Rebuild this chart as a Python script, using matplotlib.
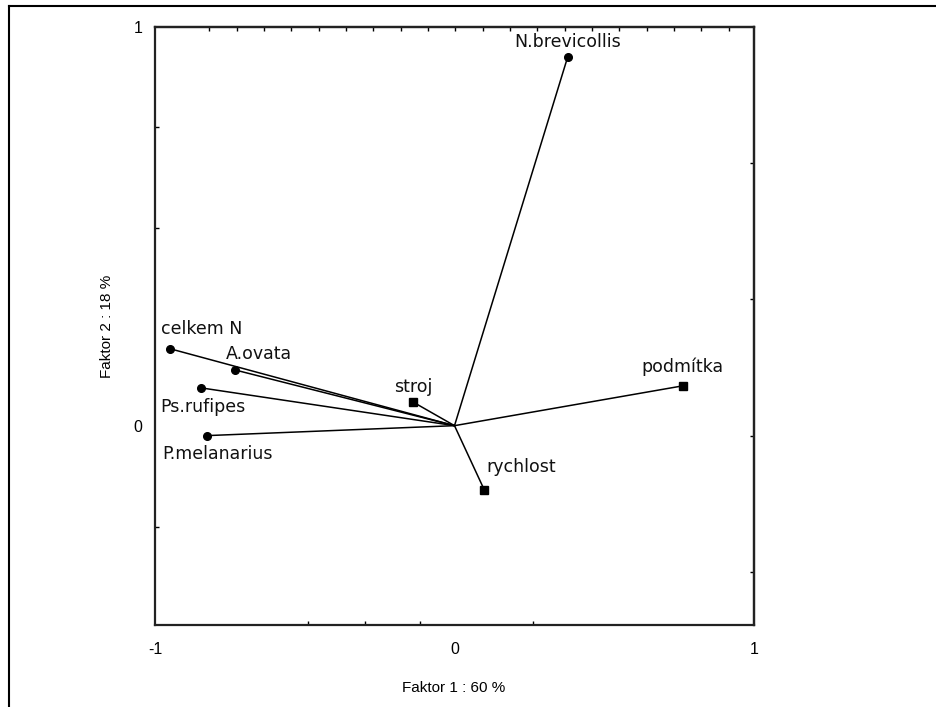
import numpy as np
import matplotlib.pyplot as plt
from matplotlib.lines import Line2D

plt.rcParams['font.family'] = ['Liberation Sans', 'DejaVu Sans']

# loadings (factor 1, factor 2)
species = ['N.brevicollis', 'celkem N', 'A.ovata', 'Ps.rufipes', 'P.melanarius']
species_f1 = [0.378, -0.950, -0.734, -0.848, -0.828]
species_f2 = [0.925, 0.193, 0.140, 0.095, -0.025]

factors = ['podmítka', 'stroj', 'rychlost']
factors_f1 = [0.763, -0.140, 0.100]
factors_f2 = [0.100, 0.060, -0.162]

x_label = 'Faktor 1 : 60 %'
y_label = 'Faktor 2 : 18 %'

# label offsets in pixels from the marker: (dx, dy, ha)
offs = {
    'N.brevicollis': (0, 15, 'center'),
    'celkem N': (-9, 20, 'left'),
    'A.ovata': (-9, 16, 'left'),
    'Ps.rufipes': (-40, -19, 'left'),
    'P.melanarius': (-44, -18, 'left'),
    'podmítka': (-1, 19, 'center'),
    'stroj': (1, 15, 'center'),
    'rychlost': (2, 23, 'left'),
}

fig = plt.figure(figsize=(9.37, 7.07), dpi=100)
ax = fig.add_axes([155/937, 1-625/707, 599/937, 598/707])

for name, x, y in zip(species, species_f1, species_f2):
    ax.plot([0, x], [0, y], color='black', lw=1.1)
    ax.plot(x, y, 'o', color='black', ms=5.5)
for name, x, y in zip(factors, factors_f1, factors_f2):
    ax.plot([0, x], [0, y], color='black', lw=1.1)
    ax.plot(x, y, 's', color='black', ms=5.5)

# the original labels are wide, DejaVu gets closer to that
for name, x, y in zip(species + factors, species_f1 + factors_f1, species_f2 + factors_f2):
    dx, dy, ha = offs[name]
    ax.annotate(name, (x, y), xytext=(dx, dy), textcoords='offset pixels',
                ha=ha, va='center', fontsize=12.5, color='#111111',
                family=['DejaVu Sans'])

ax.set_xlim(-1, 1)
ax.set_ylim(-0.5, 1)
ax.set_xticks([-1, 0, 1])
ax.set_xticklabels(['-1', '0', '1'])
ax.set_yticks([0, 1])
ax.set_yticklabels(['0', '1'])
ax.tick_params(axis='x', length=0, pad=12, labelsize=11.5)
ax.tick_params(axis='y', length=0, pad=9, labelsize=11.5)

# odd little inner tick marks like the original
ax.set_xticks([-0.488, -0.298, -0.114, 0.261], minor=True)
ax.set_yticks([0.749, 0.496, 0.0, -0.253], minor=True)
ax.tick_params(which='minor', direction='in', length=3, width=1)
top = ax.secondary_xaxis('top')
top.set_xticks(np.linspace(-0.819, 0.916, 20))
top.tick_params(direction='in', length=3, width=1, labeltop=False)
right = ax.secondary_yaxis('right')
right.set_yticks([0.659, 0.318, -0.025, -0.366])
right.tick_params(direction='in', length=3, width=1, labelright=False)
for a in (ax, top, right):
    for s in a.spines.values():
        s.set_linewidth(1.6)
        s.set_color('#222222')

ax.set_xlabel(x_label, fontsize=11, va='center')
ax.xaxis.set_label_coords(0.499, -0.105)
ax.set_ylabel(y_label, fontsize=11, va='center')
ax.yaxis.set_label_coords(-0.080, 0.5)

# frame around the figure (only top and left visible)
fig.add_artist(Line2D([9/937, 9/937], [0, 1-6/707], color='black', lw=1.5))
fig.add_artist(Line2D([9/937, 1], [1-6/707, 1-6/707], color='black', lw=1.5))

fig.savefig('out.png', dpi=100)
